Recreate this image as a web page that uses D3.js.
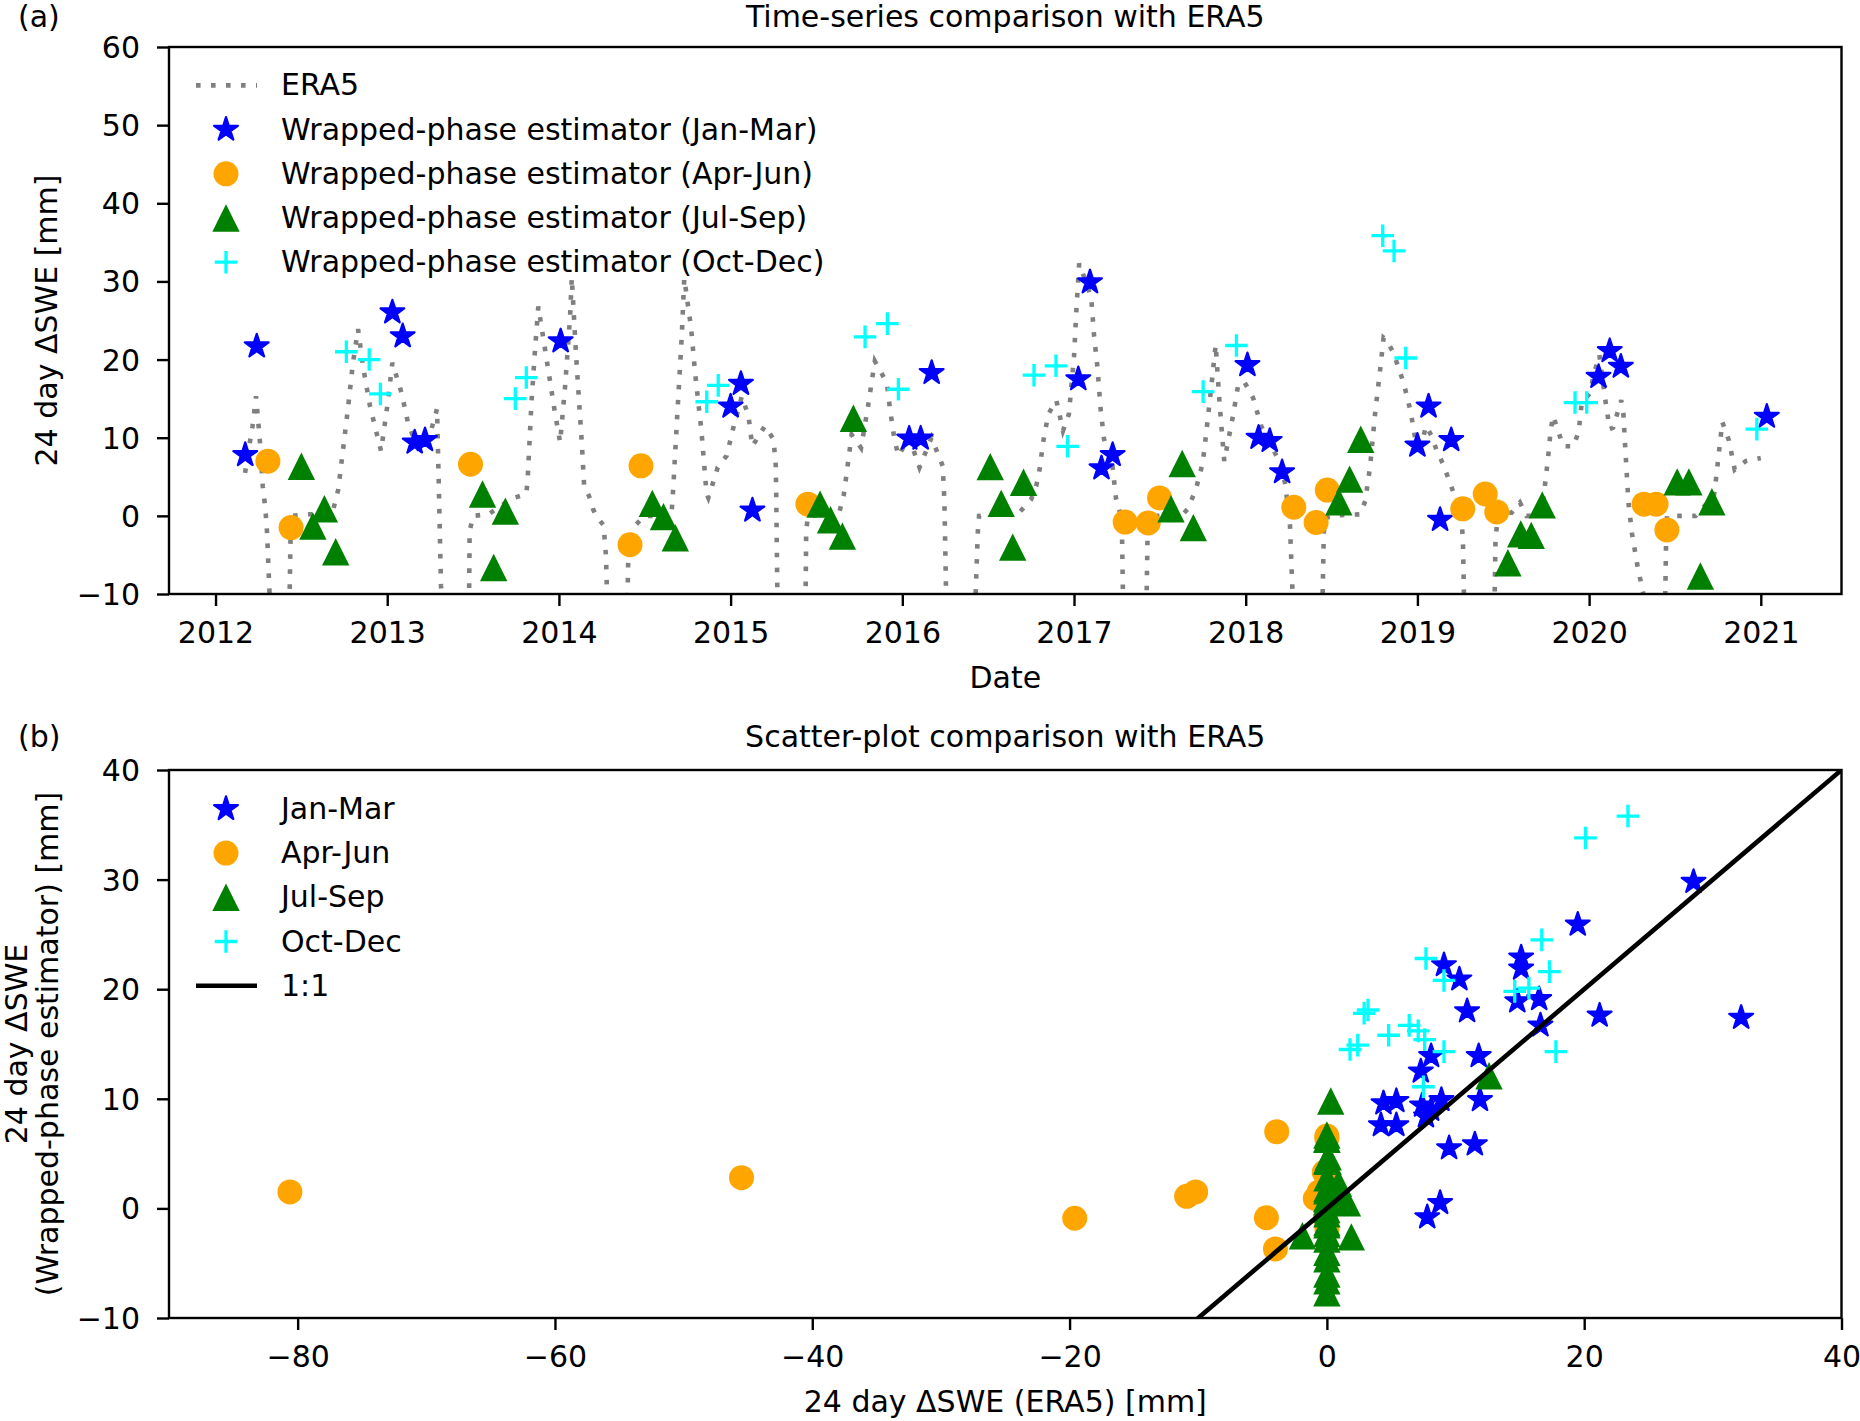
<!DOCTYPE html>
<html>
<head>
<meta charset="utf-8">
<script src="https://cdn.jsdelivr.net/npm/d3@7/dist/d3.min.js"></script>
<style>
  html, body { margin: 0; padding: 0; background: #fff; }
  svg { display: block; }
  text { font-family: "DejaVu Sans", sans-serif; fill: #000; }
</style>
</head>
<body>
<svg id="fig" width="1860" height="1421"></svg>
<script>
// ERA5 24-day dSWE along the time axis [decimal year, mm]. The spring troughs
// run far below the axis, so they only show as the steep plunges.
const era5 = [
  [2012.172, 5.5], [2012.200, 9.4], [2012.215, 11.4], [2012.236, 15.3], [2012.259, 9.4],
  [2012.275, 3.8], [2012.290, 1.0], [2012.300, -2.1], [2012.370, -40], [2012.432, -9.6],
  [2012.436, -3.8], [2012.440, 0.0], [2012.550, 0.2], [2012.680, 0.3], [2012.715, 3.4],
  [2012.740, 8.0], [2012.770, 13.5], [2012.800, 19.5], [2012.830, 23.9], [2012.860, 19.0],
  [2012.900, 14.0], [2012.964, 8.3], [2013.000, 14.0], [2013.030, 19.6], [2013.084, 15.7],
  [2013.120, 12.0], [2013.150, 10.2], [2013.200, 8.5], [2013.250, 10.5], [2013.290, 13.7],
  [2013.300, 4.3], [2013.313, -8.9], [2013.400, -30], [2013.477, -9.6], [2013.480, -2.0],
  [2013.500, 0.0], [2013.590, 0.2], [2013.650, 1.1], [2013.725, 2.2], [2013.810, 2.8],
  [2013.818, 4.7], [2013.840, 14.5], [2013.860, 21.0], [2013.880, 26.8], [2013.935, 19.1],
  [2013.974, 13.6], [2014.007, 9.4], [2014.036, 16.6], [2014.065, 25.5], [2014.075, 30.5],
  [2014.100, 20.5], [2014.133, 9.4], [2014.147, 3.8], [2014.176, 2.5], [2014.200, 0.8],
  [2014.220, -0.1], [2014.260, -1.2], [2014.274, -5.1], [2014.280, -10], [2014.340, -40],
  [2014.400, -10], [2014.405, -4.0], [2014.440, -1.3], [2014.500, 0.0], [2014.655, 0.0],
  [2014.666, 3.6], [2014.690, 13.2], [2014.715, 22.8], [2014.730, 30.4], [2014.770, 24.0],
  [2014.793, 18.3], [2014.830, 10.9], [2014.860, 2.8], [2014.870, 2.3], [2014.925, 6.2],
  [2014.977, 7.7], [2015.016, 11.3], [2015.065, 15.3], [2015.104, 12.8], [2015.126, 8.9],
  [2015.200, 11.5], [2015.250, 9.8], [2015.263, 6.4], [2015.266, 2.1], [2015.268, -2.1],
  [2015.272, -9.4], [2015.360, -50], [2015.437, -9.5], [2015.440, -2.0], [2015.450, 0.0],
  [2015.630, 0.2], [2015.660, 2.8], [2015.705, 10.4], [2015.760, 8.7], [2015.800, 14.0],
  [2015.840, 19.8], [2015.910, 17.0], [2015.930, 13.4], [2015.954, 9.8], [2015.977, 7.7],
  [2016.040, 10.0], [2016.100, 6.2], [2016.170, 10.0], [2016.235, 6.4], [2016.245, 2.0],
  [2016.255, -10], [2016.340, -35], [2016.427, -10], [2016.440, -2.0], [2016.447, 0.0],
  [2016.680, 0.4], [2016.750, 2.1], [2016.780, 3.8], [2016.800, 6.0], [2016.820, 9.4],
  [2016.850, 13.0], [2016.897, 14.8], [2016.936, 10.9], [2016.970, 13.0], [2017.000, 20.4],
  [2017.014, 26.4], [2017.030, 32.3], [2017.060, 30.5], [2017.100, 28.0], [2017.117, 23.0],
  [2017.136, 19.1], [2017.156, 13.4], [2017.175, 9.8], [2017.224, 6.4], [2017.244, 2.3],
  [2017.273, 0.0], [2017.280, -3.0], [2017.285, -10], [2017.350, -60], [2017.423, -10],
  [2017.428, -3.0], [2017.435, -1.3], [2017.490, 0.0], [2017.633, 0.2], [2017.663, 0.9],
  [2017.710, 3.4], [2017.750, 6.8], [2017.770, 10.6], [2017.800, 16.6], [2017.825, 21.9],
  [2017.848, 14.3], [2017.875, 7.0], [2017.926, 12.8], [2017.955, 16.6], [2017.990, 17.2],
  [2018.043, 15.1], [2018.090, 11.5], [2018.130, 9.8], [2018.160, 8.5], [2018.199, 6.8],
  [2018.228, 4.3], [2018.248, 0.9], [2018.258, -1.3], [2018.273, -10], [2018.360, -40],
  [2018.448, -10], [2018.455, -2.0], [2018.480, 0.0], [2018.667, 0.2], [2018.696, 1.9],
  [2018.725, 6.4], [2018.754, 13.2], [2018.784, 18.9], [2018.803, 22.8], [2018.820, 22.5],
  [2018.860, 20.9], [2018.920, 17.0], [2018.960, 13.4], [2018.988, 9.8], [2019.008, 7.7],
  [2019.050, 11.5], [2019.083, 10.2], [2019.110, 8.5], [2019.150, 6.6], [2019.210, 3.0],
  [2019.250, 1.5], [2019.265, -3.0], [2019.271, -10], [2019.360, -45], [2019.450, -10],
  [2019.455, -3.0], [2019.470, 0.4], [2019.548, 0.4], [2019.597, 1.7], [2019.635, 0.0],
  [2019.720, 0.0], [2019.740, 3.4], [2019.760, 7.2], [2019.776, 10.9], [2019.790, 12.8],
  [2019.830, 10.2], [2019.850, 8.9], [2019.910, 8.9], [2019.940, 10.9], [2019.957, 14.5],
  [2020.006, 15.7], [2020.025, 17.9], [2020.060, 20.6], [2020.094, 14.9], [2020.120, 11.1],
  [2020.140, 11.3], [2020.187, 14.8], [2020.200, 13.0], [2020.210, 8.9], [2020.220, 5.1],
  [2020.230, 1.5], [2020.250, -2.3], [2020.280, -6.2], [2020.314, -9.8], [2020.380, -80],
  [2020.444, -9.6], [2020.448, -3.8], [2020.454, 0.0], [2020.620, 0.0], [2020.727, 2.6],
  [2020.737, 4.3], [2020.756, 8.1], [2020.776, 12.0], [2020.815, 9.6], [2020.848, 5.9],
  [2020.912, 7.0], [2021.000, 7.4]
];

// Wrapped-phase estimator by season [decimal year, mm]
const janMar = [
  [2012.173, 7.8], [2012.240, 21.7], [2013.030, 26.05], [2013.090, 23.0], [2013.160, 9.4],
  [2013.220, 9.7], [2014.010, 22.35], [2015.000, 14.0], [2015.060, 16.9], [2015.127, 0.7],
  [2016.040, 9.9], [2016.107, 9.9], [2016.171, 18.3], [2017.025, 17.5], [2017.093, 29.9],
  [2017.160, 6.1], [2017.225, 7.8], [2018.010, 19.3], [2018.075, 10.0], [2018.140, 9.6],
  [2018.212, 5.6], [2019.000, 9.0], [2019.065, 14.0], [2019.132, -0.5], [2019.197, 9.7],
  [2020.055, 17.8], [2020.120, 21.1], [2020.185, 19.1], [2021.035, 12.7]
];
const aprJun = [
  [2012.305, 7.0], [2012.440, -1.5], [2013.485, 6.6], [2014.414, -3.7], [2014.478, 6.4],
  [2015.450, 1.5], [2017.298, -0.8], [2017.432, -0.9], [2017.498, 2.3], [2018.280, 1.1],
  [2018.410, -0.85], [2018.475, 3.3], [2019.264, 0.9], [2019.395, 2.8], [2019.462, 0.5],
  [2020.320, 1.5], [2020.390, 1.5], [2020.453, -1.8]
];
const julSep = [
  [2012.500, 6.35], [2012.567, -1.3], [2012.634, 0.9], [2012.700, -4.6], [2013.555, 2.8],
  [2013.620, -6.6], [2013.688, 0.6], [2014.544, 1.6], [2014.609, -0.1], [2014.678, -2.8],
  [2015.521, 1.5], [2015.582, -0.5], [2015.651, -2.6], [2015.715, 12.5], [2016.512, 6.3],
  [2016.576, 1.6], [2016.643, -4.0], [2016.706, 4.3], [2017.565, 0.9], [2017.630, 6.7],
  [2017.695, -1.5], [2018.542, 1.8], [2018.605, 4.7], [2018.670, 9.8], [2019.527, -6.0],
  [2019.602, -2.3], [2019.663, -2.5], [2019.727, 1.4], [2020.513, 4.35], [2020.581, 4.35],
  [2020.648, -7.7], [2020.715, 1.8]
];
const octDec = [
  [2012.762, 21.0], [2012.895, 20.0], [2012.960, 15.6], [2013.746, 15.0], [2013.810, 17.7],
  [2014.861, 14.6], [2014.928, 16.7], [2015.783, 22.9], [2015.913, 24.6], [2015.977, 16.2],
  [2016.767, 18.0], [2016.895, 19.2], [2016.963, 8.9], [2017.752, 15.9], [2017.946, 21.8],
  [2018.798, 35.85], [2018.864, 33.9], [2018.932, 20.2], [2019.918, 14.5], [2019.986, 14.5],
  [2020.977, 11.1]
];

// Scatter panel [ERA5 mm, estimator mm]
const scatterJanMar = [
  [28.5, 29.8], [19.5, 25.9], [15.1, 22.9], [15.1, 21.9], [9.1, 22.2], [10.3, 20.9],
  [14.8, 18.9], [16.5, 19.1], [10.9, 18.0], [21.2, 17.6], [32.2, 17.4], [16.6, 16.7],
  [11.8, 13.9], [8.1, 13.9], [7.3, 12.5], [11.9, 9.9], [4.4, 9.6], [5.4, 9.8],
  [7.4, 9.4], [8.9, 9.9], [8.1, 9.0], [7.7, 8.4], [4.2, 7.6], [5.4, 7.6],
  [9.5, 5.5], [11.5, 5.85], [8.8, 0.5], [7.8, -0.8]
];
const scatterAprJun = [
  [-80.6, 1.5], [-45.5, 2.8], [-19.6, -0.9], [-10.9, 1.1], [-10.2, 1.5], [-4.7, -0.85],
  [-4.0, -3.7], [-3.9, 7.0], [0.0, 6.6], [0.0, 6.4], [-0.2, 3.3], [0.0, 2.3],
  [-0.6, 1.5], [-0.9, 0.9], [0.0, 0.5], [-0.1, -0.8], [0.0, -1.5], [0.0, -1.8]
];
const scatterJulSep = [
  [0.3, 9.8], [0.0, 6.7], [0.0, 6.35], [0.0, 6.3], [0.1, 4.7], [0.0, 4.35], [0.0, 4.35],
  [0.1, 4.3], [0.0, 2.8], [0.9, 2.3], [0.2, 1.8], [0.0, 1.8], [1.6, 0.5], [0.0, 1.6],
  [1.1, 1.4], [0.0, 0.9], [0.0, 0.9], [0.0, 0.6], [0.0, -0.1], [0.0, -0.5], [0.0, -1.3],
  [0.0, -1.5], [-1.9, -2.5], [1.9, -2.6], [0.0, -2.3], [0.0, -2.8], [0.0, -4.0],
  [0.0, -4.6], [0.0, -6.0], [0.0, -6.6], [0.0, -7.7], [12.6, 12.1]
];
const scatterOctDec = [
  [23.4, 35.8], [20.1, 33.8], [16.7, 24.5], [7.7, 22.8], [17.3, 21.6], [9.1, 20.8],
  [14.6, 19.8], [15.7, 20.1], [2.9, 17.8], [3.2, 18.1], [6.4, 16.7], [7.1, 16.2],
  [4.8, 15.8], [7.6, 15.4], [2.4, 14.9], [1.8, 14.5], [9.1, 14.3], [17.8, 14.3], [7.5, 11.1]
];

const yearTicks = [2012, 2013, 2014, 2015, 2016, 2017, 2018, 2019, 2020, 2021];
const topValueTicks = [-10, 0, 10, 20, 30, 40, 50, 60];
const era5Ticks = [-80, -60, -40, -20, 0, 20, 40];
const estTicks = [-10, 0, 10, 20, 30, 40];

const seasonLabels = ['Jan-Mar', 'Apr-Jun', 'Jul-Sep', 'Oct-Dec'];

const FS = 30;
const fig = d3.select('#fig');

const topBox = { left: 169, right: 1841.5, top: 47, bottom: 594 };
const botBox = { left: 169, right: 1841.5, top: 770, bottom: 1318 };

const xTime = d3.scaleLinear().domain([2011.729, 2021.47]).range([topBox.left, topBox.right]);
const yTop = d3.scaleLinear().domain([-10, 60]).range([topBox.bottom, topBox.top]);
const xEra = d3.scaleLinear().domain([-90, 40]).range([botBox.left, botBox.right]);
const yEst = d3.scaleLinear().domain([-10, 40]).range([botBox.bottom, botBox.top]);

const minus = (d) => (d < 0 ? '\u2212' + Math.abs(d) : String(d));

function starPath(R) {
  const r = R * 0.381966;
  const pts = d3.range(10).map((i) => {
    const a = -Math.PI / 2 + i * Math.PI / 5;
    const rad = i % 2 ? r : R;
    return [rad * Math.cos(a), rad * Math.sin(a)];
  });
  return 'M' + pts.map((p) => p[0].toFixed(2) + ',' + p[1].toFixed(2)).join('L') + 'Z';
}

// marker look per season, sized from the picture
const markers = [
  { path: starPath(12.5), fill: '#0000ff', stroke: '#0000ff', sw: 2.2 },
  { path: d3.symbol(d3.symbolCircle, Math.PI * 12.5 * 12.5)(), fill: '#ffa500', stroke: 'none', sw: 0 },
  { path: 'M0,-13.7L13.7,13.7L-13.7,13.7Z', fill: '#008000', stroke: 'none', sw: 0 },
  { path: 'M-11.3,0H11.3M0,-11.3V11.3', fill: 'none', stroke: '#00ffff', sw: 3.3 }
];
const era5Style = { color: '#808080', width: 4.6, dash: '4.6 10.4' };

function addClip(id, box) {
  fig.append('clipPath').attr('id', id).append('rect')
    .attr('x', box.left).attr('y', box.top)
    .attr('width', box.right - box.left).attr('height', box.bottom - box.top);
}
addClip('clipTop', topBox);
addClip('clipBot', botBox);

function drawPoints(layer, data, m, x, y) {
  layer.append('g').selectAll('path').data(data).join('path')
    .attr('d', m.path)
    .attr('transform', (d) => `translate(${x(d[0])},${y(d[1])})`)
    .attr('fill', m.fill)
    .attr('stroke', m.stroke)
    .attr('stroke-width', m.sw)
    .attr('stroke-linejoin', 'round');
}

function drawAxes(box, x, y, xTicks, yTicks, xFmt) {
  const gx = fig.append('g').attr('transform', `translate(0,${box.bottom})`)
    .call(d3.axisBottom(x).tickValues(xTicks).tickFormat(xFmt).tickSize(12).tickPadding(16));
  const gy = fig.append('g').attr('transform', `translate(${box.left},0)`)
    .call(d3.axisLeft(y).tickValues(yTicks).tickFormat(minus).tickSize(12).tickPadding(17));
  [gx, gy].forEach((g) => {
    g.select('.domain').remove();
    g.attr('font-family', null).attr('font-size', null);
    g.selectAll('line').attr('stroke', '#000').attr('stroke-width', 2.4);
    g.selectAll('text').attr('font-size', FS).attr('fill', '#000');
  });
  gy.selectAll('text').attr('dy', '0.35em');
  fig.append('rect')
    .attr('x', box.left).attr('y', box.top)
    .attr('width', box.right - box.left).attr('height', box.bottom - box.top)
    .attr('fill', 'none').attr('stroke', '#000').attr('stroke-width', 2.4);
}

function legend(rows, top) {
  const g = fig.append('g');
  rows.forEach((row, i) => {
    const cy = top + i * 44.2;
    if (row.line) {
      g.append('line').attr('x1', 196).attr('x2', 257).attr('y1', cy).attr('y2', cy)
        .attr('stroke', row.line.color).attr('stroke-width', row.line.width)
        .attr('stroke-dasharray', row.line.dash || null);
    } else {
      const m = row.marker;
      g.append('path').attr('d', m.path).attr('transform', `translate(226,${cy})`)
        .attr('fill', m.fill).attr('stroke', m.stroke).attr('stroke-width', m.sw)
        .attr('stroke-linejoin', 'round');
    }
    g.append('text').attr('x', 281).attr('y', cy + 10).attr('font-size', FS).text(row.label);
  });
}

// ---------- (a) time series ----------
const topLayer = fig.append('g').attr('clip-path', 'url(#clipTop)');
topLayer.append('path')
  .datum(era5)
  .attr('d', d3.line().x((d) => xTime(d[0])).y((d) => yTop(d[1])))
  .attr('fill', 'none').attr('stroke', era5Style.color).attr('stroke-width', era5Style.width)
  .attr('stroke-dasharray', era5Style.dash);
[janMar, aprJun, julSep, octDec].forEach((s, i) => drawPoints(topLayer, s, markers[i], xTime, yTop));
drawAxes(topBox, xTime, yTop, yearTicks, topValueTicks, d3.format('d'));

legend([
  { label: 'ERA5', line: era5Style },
  ...seasonLabels.map((s, i) => ({ label: `Wrapped-phase estimator (${s})`, marker: markers[i] }))
], 85.4);

fig.append('text').attr('x', 18).attr('y', 27).attr('font-size', FS).text('(a)');
fig.append('text').attr('x', (topBox.left + topBox.right) / 2).attr('y', 27)
  .attr('text-anchor', 'middle').attr('font-size', FS).text('Time-series comparison with ERA5');
fig.append('text').attr('x', (topBox.left + topBox.right) / 2).attr('y', 688)
  .attr('text-anchor', 'middle').attr('font-size', FS).text('Date');
fig.append('text').attr('transform', `translate(57,${(topBox.top + topBox.bottom) / 2}) rotate(-90)`)
  .attr('text-anchor', 'middle').attr('font-size', FS).text('24 day \u0394SWE [mm]');

// ---------- (b) scatter ----------
const botLayer = fig.append('g').attr('clip-path', 'url(#clipBot)');
[scatterJanMar, scatterAprJun, scatterJulSep, scatterOctDec]
  .forEach((s, i) => drawPoints(botLayer, s, markers[i], xEra, yEst));
botLayer.append('path')
  .datum([[-90, -90], [40, 40]])
  .attr('d', d3.line().x((d) => xEra(d[0])).y((d) => yEst(d[1])))
  .attr('fill', 'none').attr('stroke', '#000').attr('stroke-width', 4.6);
drawAxes(botBox, xEra, yEst, era5Ticks, estTicks, minus);

legend([
  ...seasonLabels.map((s, i) => ({ label: s, marker: markers[i] })),
  { label: '1:1', line: { color: '#000', width: 4.6 } }
], 808.9);

fig.append('text').attr('x', 18).attr('y', 747).attr('font-size', FS).text('(b)');
fig.append('text').attr('x', (botBox.left + botBox.right) / 2).attr('y', 747)
  .attr('text-anchor', 'middle').attr('font-size', FS).text('Scatter-plot comparison with ERA5');
fig.append('text').attr('x', (botBox.left + botBox.right) / 2).attr('y', 1412)
  .attr('text-anchor', 'middle').attr('font-size', FS).text('24 day \u0394SWE (ERA5) [mm]');
const yl = fig.append('text')
  .attr('transform', `translate(27,${(botBox.top + botBox.bottom) / 2}) rotate(-90)`)
  .attr('text-anchor', 'middle').attr('font-size', FS);
yl.append('tspan').attr('x', 0).attr('y', 0).text('24 day \u0394SWE');
yl.append('tspan').attr('x', 0).attr('y', 31).text('(Wrapped-phase estimator) [mm]');
</script>
</body>
</html>
